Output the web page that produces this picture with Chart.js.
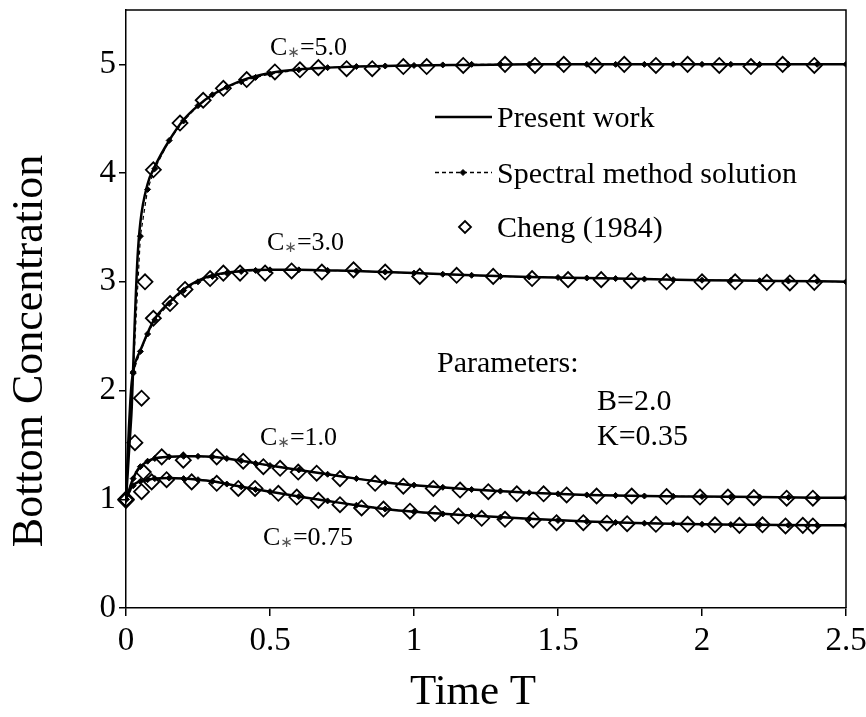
<!DOCTYPE html>
<html><head><meta charset="utf-8">
<script src="https://cdn.jsdelivr.net/npm/chart.js@4.4.1/dist/chart.umd.min.js"></script>
<style>html,body{margin:0;padding:0;background:#fff;}</style>
</head><body>
<canvas id="c" width="866" height="717"></canvas>
<script>
const FONT = '"Liberation Serif", "Times New Roman", serif';

// ---- tick labels ----
const xTicks = [0, 0.5, 1, 1.5, 2, 2.5];
const yTicks = [0, 1, 2, 3, 4, 5];

// ---- Present work (solid lines) ----
const presentT = [0, 0.005, 0.01, 0.015, 0.02, 0.03, 0.04, 0.05, 0.075, 0.1, 0.15, 0.2, 0.25, 0.3, 0.4, 0.5, 0.6, 0.7, 0.8, 0.9, 1.0, 1.2, 1.4, 1.6, 1.8, 2.0, 2.2, 2.4, 2.5];
const present5  = [1, 1.2, 1.42, 1.62, 1.85, 2.6, 3.22, 3.55, 3.9, 4.06, 4.3, 4.49, 4.62, 4.72, 4.85, 4.92, 4.955, 4.97, 4.98, 4.985, 4.99, 4.995, 5.0, 5.0, 5.0, 5.0, 5.0, 5.0, 5.0];
const present3  = [1, 1.35, 1.65, 1.9, 2.08, 2.24, 2.31, 2.37, 2.53, 2.66, 2.81, 2.93, 3.01, 3.06, 3.1, 3.11, 3.11, 3.105, 3.1, 3.09, 3.08, 3.06, 3.045, 3.035, 3.025, 3.015, 3.01, 3.005, 3.0];
const present1  = [1, 1.04, 1.08, 1.12, 1.16, 1.22, 1.27, 1.3, 1.35, 1.375, 1.39, 1.395, 1.395, 1.39, 1.355, 1.31, 1.27, 1.23, 1.19, 1.155, 1.13, 1.09, 1.06, 1.04, 1.03, 1.025, 1.02, 1.015, 1.015];
const present075= [1, 1.03, 1.06, 1.09, 1.11, 1.14, 1.155, 1.165, 1.18, 1.19, 1.195, 1.19, 1.18, 1.165, 1.115, 1.07, 1.025, 0.985, 0.945, 0.91, 0.885, 0.85, 0.82, 0.795, 0.78, 0.77, 0.765, 0.76, 0.76];

// ---- Spectral method solution (dashed + small markers) ----
const spectralT = [0, 0.025, 0.05, 0.075, 0.1, 0.15, 0.2, 0.25, 0.3, 0.35, 0.4, 0.45, 0.5, 0.6, 0.7, 0.8, 0.9, 1.0, 1.1, 1.2, 1.3, 1.4, 1.5, 1.6, 1.7, 1.8, 1.9, 2.0, 2.1, 2.2, 2.3, 2.4, 2.5];
const spectral5  = [1, 2.16, 3.42, 3.85, 4.04, 4.3, 4.48, 4.62, 4.72, 4.79, 4.84, 4.88, 4.91, 4.95, 4.97, 4.98, 4.985, 4.99, 4.995, 5.0, 5.0, 5.0, 5.0, 5.0, 5.0, 5.0, 5.0, 5.0, 5.0, 5.0, 5.0, 5.0, 5.0];
const spectral3  = [1, 2.17, 2.36, 2.52, 2.65, 2.8, 2.92, 3.0, 3.05, 3.08, 3.095, 3.105, 3.11, 3.11, 3.105, 3.1, 3.09, 3.08, 3.07, 3.06, 3.05, 3.045, 3.04, 3.035, 3.03, 3.025, 3.02, 3.015, 3.012, 3.01, 3.007, 3.005, 3.0];
const spectral1  = [1, 1.19, 1.3, 1.35, 1.375, 1.39, 1.395, 1.395, 1.39, 1.375, 1.355, 1.33, 1.31, 1.27, 1.23, 1.19, 1.155, 1.13, 1.11, 1.09, 1.075, 1.06, 1.05, 1.04, 1.035, 1.03, 1.027, 1.025, 1.022, 1.02, 1.017, 1.015, 1.015];
const spectral075= [1, 1.125, 1.165, 1.18, 1.19, 1.195, 1.19, 1.18, 1.165, 1.14, 1.115, 1.09, 1.07, 1.025, 0.985, 0.945, 0.91, 0.885, 0.865, 0.85, 0.835, 0.82, 0.805, 0.795, 0.787, 0.78, 0.775, 0.77, 0.767, 0.765, 0.762, 0.76, 0.76];

// ---- Cheng (1984) (open diamonds) ----
const cheng5T = [0, 0.031, 0.066, 0.095, 0.1875, 0.268, 0.338, 0.419, 0.517, 0.604, 0.668, 0.766, 0.855, 0.963, 1.044, 1.171, 1.316, 1.42, 1.52, 1.63, 1.73, 1.84, 1.95, 2.06, 2.17, 2.28, 2.39];
const cheng5C = [1.0, 1.52, 3.0, 4.03, 4.46, 4.67, 4.78, 4.86, 4.93, 4.95, 4.97, 4.96, 4.96, 4.98, 4.98, 4.99, 5.0, 4.99, 5.0, 4.99, 5.0, 4.99, 5.0, 4.99, 4.98, 5.0, 4.99];
const cheng3T = [0, 0.054, 0.095, 0.153, 0.205, 0.292, 0.338, 0.396, 0.483, 0.575, 0.68, 0.79, 0.90, 1.02, 1.148, 1.275, 1.41, 1.535, 1.65, 1.755, 1.877, 2.0, 2.115, 2.225, 2.305, 2.39];
const cheng3C = [1.0, 1.93, 2.665, 2.8, 2.93, 3.03, 3.08, 3.08, 3.08, 3.1, 3.09, 3.11, 3.09, 3.05, 3.06, 3.05, 3.03, 3.02, 3.02, 3.01, 3.0, 3.0, 3.0, 2.995, 2.99, 2.995];
const cheng1T = [0, 0.06, 0.124, 0.199, 0.315, 0.407, 0.477, 0.535, 0.598, 0.662, 0.743, 0.865, 0.963, 1.067, 1.16, 1.258, 1.357, 1.45, 1.53, 1.634, 1.756, 1.877, 1.993, 2.09, 2.18, 2.294, 2.385];
const cheng1C = [1.0, 1.25, 1.39, 1.36, 1.39, 1.35, 1.3, 1.285, 1.25, 1.24, 1.19, 1.147, 1.12, 1.1, 1.085, 1.07, 1.05, 1.05, 1.04, 1.03, 1.03, 1.025, 1.02, 1.02, 1.015, 1.01, 1.01];
const cheng075T = [0, 0.054, 0.089, 0.141, 0.228, 0.315, 0.39, 0.448, 0.529, 0.593, 0.668, 0.743, 0.818, 0.894, 0.986, 1.073, 1.154, 1.235, 1.316, 1.414, 1.495, 1.588, 1.67, 1.74, 1.84, 1.95, 2.045, 2.13, 2.21, 2.29, 2.35, 2.385];
const cheng075C = [0.99, 1.07, 1.16, 1.18, 1.16, 1.147, 1.1, 1.1, 1.055, 1.02, 0.99, 0.95, 0.92, 0.91, 0.89, 0.87, 0.846, 0.825, 0.816, 0.81, 0.785, 0.785, 0.78, 0.775, 0.77, 0.77, 0.765, 0.76, 0.765, 0.755, 0.76, 0.755];

// ---- text ----
const yTitle = 'Bottom Concentration';
const xTitle = 'Time T';
const legendLabels = ['Present work', 'Spectral method solution', 'Cheng (1984)'];
const curveLabels = [['5.0', 270, 55], ['3.0', 267, 250], ['1.0', 260, 445], ['0.75', 263, 545]];
const paramLines = [['Parameters:', 437, 372], ['B=2.0', 597, 410], ['K=0.35', 597, 445]];

function pts(T, V) { return T.map((t, i) => ({ x: t, y: V[i] })); }
const presentDs = v => ({ label: 'Present work', data: pts(presentT, v), showLine: true, borderColor: '#000', borderWidth: 2.5, pointRadius: 0, cubicInterpolationMode: 'monotone', order: 3 });
const spectralDs = v => ({ label: 'Spectral method solution', data: pts(spectralT, v), showLine: true, borderColor: '#000', borderWidth: 1.2, borderDash: [4, 3], pointStyle: 'rectRot', pointRadius: 3, pointBackgroundColor: '#000', pointBorderColor: '#000', pointBorderWidth: 1, order: 2 });
const chengDs = (t, v) => ({ label: 'Cheng (1984)', data: pts(t, v), showLine: false, pointStyle: 'rectRot', pointRadius: 7.5, pointBorderWidth: 1.8, pointBorderColor: '#000', pointBackgroundColor: 'rgba(0,0,0,0)', clip: false, order: 1 });

const decor = {
  id: 'decor',
  afterDraw(chart) {
    const ctx = chart.ctx, a = chart.chartArea;
    ctx.save();
    // frame top/right
    ctx.strokeStyle = '#000'; ctx.lineWidth = 1.5;
    ctx.beginPath();
    ctx.moveTo(a.left, a.top); ctx.lineTo(a.right, a.top); ctx.lineTo(a.right, a.bottom);
    ctx.stroke();
    ctx.fillStyle = '#000';
    // axis titles
    ctx.font = '44px ' + FONT;
    ctx.textAlign = 'center'; ctx.textBaseline = 'middle';
    ctx.save(); ctx.translate(30, 351); ctx.rotate(-Math.PI / 2); ctx.fillText(yTitle, 0, 0); ctx.restore();
    ctx.font = '43px ' + FONT;
    ctx.textBaseline = 'alphabetic';
    ctx.fillText(xTitle, 473, 704);
    // legend
    ctx.textAlign = 'left'; ctx.font = '30px ' + FONT;
    const lx0 = 435, lx1 = 492, tx = 497, rows = [117, 172.5, 227];
    ctx.lineWidth = 2.5; ctx.setLineDash([]);
    ctx.beginPath(); ctx.moveTo(lx0, rows[0]); ctx.lineTo(lx1, rows[0]); ctx.stroke();
    ctx.lineWidth = 1.3; ctx.setLineDash([4, 3]);
    ctx.beginPath(); ctx.moveTo(lx0, rows[1]); ctx.lineTo(lx1, rows[1]); ctx.stroke();
    ctx.setLineDash([]);
    const dia = (x, y, r, fill, lw) => { ctx.beginPath(); ctx.moveTo(x - r, y); ctx.lineTo(x, y - r); ctx.lineTo(x + r, y); ctx.lineTo(x, y + r); ctx.closePath(); if (fill) ctx.fill(); ctx.lineWidth = lw; ctx.stroke(); };
    dia(463, rows[1], 3, true, 1);
    dia(465, rows[2], 6, false, 1.8);
    legendLabels.forEach((s, i) => ctx.fillText(s, tx, Math.round(rows[i]) + 10));
    // curve labels C*=...
    curveLabels.forEach(([v, x, y]) => {
      ctx.font = '26px ' + FONT; ctx.fillStyle = '#000';
      ctx.fillText('C', x, y);
      const w = ctx.measureText('C').width;
      ctx.font = '15px "DejaVu Sans"'; ctx.fillStyle = '#555';
      ctx.fillText('\u2217', x + w, y + 2);
      const w2 = ctx.measureText('\u2217').width;
      ctx.font = '26px ' + FONT; ctx.fillStyle = '#000';
      ctx.fillText('=' + v, x + w + w2, y);
    });
    ctx.font = '30px ' + FONT;
    paramLines.forEach(([s, x, y]) => ctx.fillText(s, x, y));
    ctx.restore();
  }
};

new Chart(document.getElementById('c'), {
  type: 'scatter',
  data: {
    datasets: [
      presentDs(present5), presentDs(present3), presentDs(present1), presentDs(present075),
      spectralDs(spectral5), spectralDs(spectral3), spectralDs(spectral1), spectralDs(spectral075),
      chengDs(cheng5T, cheng5C), chengDs(cheng3T, cheng3C), chengDs(cheng1T, cheng1C), chengDs(cheng075T, cheng075C)
    ]
  },
  options: {
    responsive: false, animation: false, devicePixelRatio: 1,
    layout: { padding: { left: 0, right: 20, top: 10, bottom: 0 } },
    plugins: { legend: { display: false }, tooltip: { enabled: false } },
    scales: {
      x: {
        type: 'linear', min: 0, max: 2.5,
        afterBuildTicks: s => { s.ticks = xTicks.map(v => ({ value: v })); },
        afterFit: s => { s.height = 109; s.paddingLeft = 0; s.paddingRight = 0; },
        ticks: { color: '#000', font: { family: FONT, size: 33 }, padding: 6, maxRotation: 0, autoSkip: false, callback: v => String(v) },
        grid: { drawOnChartArea: false, drawTicks: true, tickLength: 8, color: '#000', lineWidth: 1.5 },
        border: { display: true, color: '#000', width: 1.5 }
      },
      y: {
        type: 'linear', min: 0, max: 5.5,
        afterBuildTicks: s => { s.ticks = yTicks.map(v => ({ value: v })); },
        afterFit: s => { s.width = 126; s.paddingTop = 0; s.paddingBottom = 0; },
        ticks: { color: '#000', font: { family: FONT, size: 33 }, padding: 3, autoSkip: false, callback: v => String(v) },
        grid: { drawOnChartArea: false, drawTicks: true, tickLength: 7, color: '#000', lineWidth: 1.5 },
        border: { display: true, color: '#000', width: 1.5 }
      }
    }
  },
  plugins: [decor]
});
</script>
</body></html>
